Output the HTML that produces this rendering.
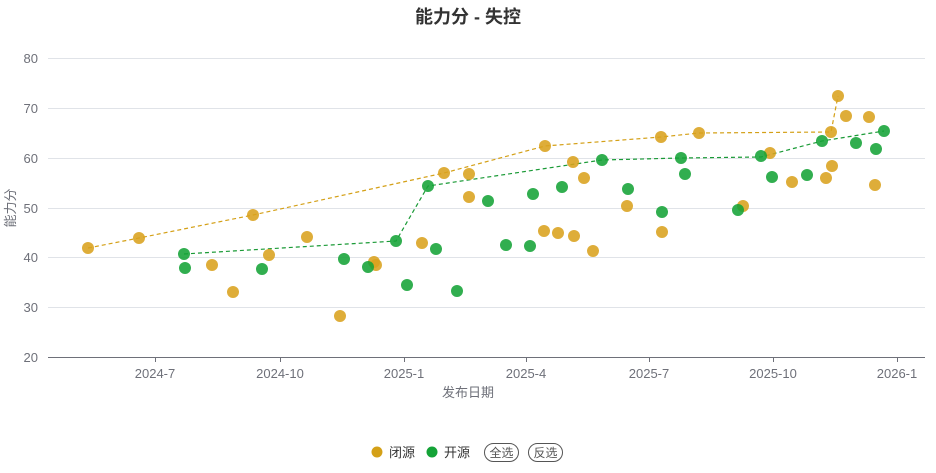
<!DOCTYPE html>
<html><head><meta charset="utf-8"><style>
body{margin:0;background:#fff;font-family:"Liberation Sans","Noto Sans CJK SC",sans-serif}
</style></head><body>
<svg width="936" height="468" xmlns="http://www.w3.org/2000/svg" font-family="Liberation Sans, Noto Sans CJK SC, sans-serif">
<text x="468" y="23" text-anchor="middle" font-size="18" font-weight="bold" fill="#333">能力分 - 失控</text>
<g stroke="#e0e3e8" stroke-width="1">
<line x1="48" x2="925" y1="58.5" y2="58.5"/><line x1="48" x2="925" y1="108.5" y2="108.5"/>
<line x1="48" x2="925" y1="158.5" y2="158.5"/><line x1="48" x2="925" y1="208.5" y2="208.5"/>
<line x1="48" x2="925" y1="257.5" y2="257.5"/><line x1="48" x2="925" y1="307.5" y2="307.5"/>
</g>
<line x1="48" x2="925" y1="357.5" y2="357.5" stroke="#6e7079"/>
<g stroke="#6e7079"><line x1="155.5" x2="155.5" y1="357" y2="362"/><line x1="280.5" x2="280.5" y1="357" y2="362"/><line x1="404.5" x2="404.5" y1="357" y2="362"/><line x1="526.5" x2="526.5" y1="357" y2="362"/><line x1="649.5" x2="649.5" y1="357" y2="362"/><line x1="773.5" x2="773.5" y1="357" y2="362"/><line x1="897.5" x2="897.5" y1="357" y2="362"/></g>
<g font-size="13" fill="#6e7079" text-anchor="end">
<text x="38" y="63">80</text><text x="38" y="113">70</text><text x="38" y="163">60</text><text x="38" y="213">50</text><text x="38" y="262">40</text><text x="38" y="312">30</text><text x="38" y="362">20</text>
</g>
<g font-size="13" fill="#6e7079" text-anchor="middle">
<text x="155" y="378">2024-7</text><text x="280" y="378">2024-10</text><text x="404" y="378">2025-1</text><text x="526" y="378">2025-4</text><text x="649" y="378">2025-7</text><text x="773" y="378">2025-10</text><text x="897" y="378">2026-1</text>
</g>
<text x="468" y="397" text-anchor="middle" font-size="13" fill="#6e7079">发布日期</text>
<text transform="translate(15,208) rotate(-90)" text-anchor="middle" font-size="13" fill="#6e7079">能力分</text>
<polyline fill="none" stroke="#d4a017" stroke-width="1.2" stroke-dasharray="4,3" points="88,248 139,238 253,215 444,173 545,146 661,137 699,133 831,132 838,96"/>
<polyline fill="none" stroke="#1a9a36" stroke-width="1.2" stroke-dasharray="4,3" points="184,254 396,241 428,186 602,160 681,158 761,157 822,141 884,131"/>
<g fill="#d9a21e" fill-opacity="0.88">
<circle cx="88" cy="248" r="6"/><circle cx="139" cy="238" r="6"/><circle cx="212" cy="265" r="6"/><circle cx="233" cy="292" r="6"/><circle cx="253" cy="215" r="6"/><circle cx="269" cy="255" r="6"/><circle cx="307" cy="237" r="6"/><circle cx="340" cy="316" r="6"/><circle cx="374" cy="262" r="6"/><circle cx="376" cy="265" r="6"/><circle cx="422" cy="243" r="6"/><circle cx="444" cy="173" r="6"/><circle cx="469" cy="174" r="6"/><circle cx="469" cy="197" r="6"/><circle cx="544" cy="231" r="6"/><circle cx="545" cy="146" r="6"/><circle cx="558" cy="233" r="6"/><circle cx="573" cy="162" r="6"/><circle cx="574" cy="236" r="6"/><circle cx="584" cy="178" r="6"/><circle cx="593" cy="251" r="6"/><circle cx="627" cy="206" r="6"/><circle cx="661" cy="137" r="6"/><circle cx="662" cy="232" r="6"/><circle cx="699" cy="133" r="6"/><circle cx="743" cy="206" r="6"/><circle cx="770" cy="153" r="6"/><circle cx="792" cy="182" r="6"/><circle cx="826" cy="178" r="6"/><circle cx="831" cy="132" r="6"/><circle cx="832" cy="166" r="6"/><circle cx="838" cy="96" r="6"/><circle cx="846" cy="116" r="6"/><circle cx="869" cy="117" r="6"/><circle cx="875" cy="185" r="6"/>
</g>
<g fill="#14a337" fill-opacity="0.88">
<circle cx="184" cy="254" r="6"/><circle cx="185" cy="268" r="6"/><circle cx="262" cy="269" r="6"/><circle cx="344" cy="259" r="6"/><circle cx="368" cy="267" r="6"/><circle cx="396" cy="241" r="6"/><circle cx="407" cy="285" r="6"/><circle cx="428" cy="186" r="6"/><circle cx="436" cy="249" r="6"/><circle cx="457" cy="291" r="6"/><circle cx="488" cy="201" r="6"/><circle cx="506" cy="245" r="6"/><circle cx="530" cy="246" r="6"/><circle cx="533" cy="194" r="6"/><circle cx="562" cy="187" r="6"/><circle cx="602" cy="160" r="6"/><circle cx="628" cy="189" r="6"/><circle cx="662" cy="212" r="6"/><circle cx="681" cy="158" r="6"/><circle cx="685" cy="174" r="6"/><circle cx="738" cy="210" r="6"/><circle cx="761" cy="156" r="6"/><circle cx="772" cy="177" r="6"/><circle cx="807" cy="175" r="6"/><circle cx="822" cy="141" r="6"/><circle cx="856" cy="143" r="6"/><circle cx="876" cy="149" r="6"/><circle cx="884" cy="131" r="6"/>
</g>
<circle cx="377" cy="452" r="5.5" fill="#d4a017"/>
<text x="389" y="457" font-size="13" fill="#333">闭源</text>
<circle cx="432" cy="452" r="5.5" fill="#14a337"/>
<text x="444" y="457" font-size="13" fill="#333">开源</text>
<rect x="484.5" y="443.5" width="34" height="18" rx="9" fill="none" stroke="#555"/>
<text x="501.5" y="457" font-size="12" fill="#555" text-anchor="middle">全选</text>
<rect x="528.5" y="443.5" width="34" height="18" rx="9" fill="none" stroke="#555"/>
<text x="545.5" y="457" font-size="12" fill="#555" text-anchor="middle">反选</text>
</svg>
</body></html>
